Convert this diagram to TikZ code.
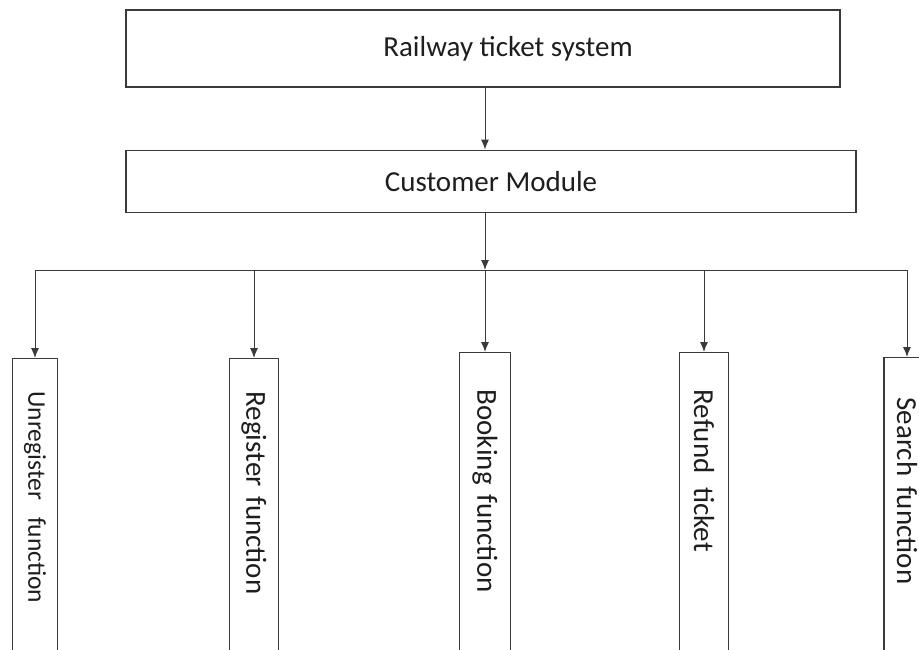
\documentclass[tikz,border=0pt]{standalone}
\usepackage{fontspec}
\setmainfont{Carlito}
\usetikzlibrary{arrows.meta, positioning}
\definecolor{mline}{HTML}{3A3A3A}
\definecolor{mtext}{HTML}{1E1E1E}
\tikzstyle{block} = [rectangle, draw = mline, line width = 1.2pt, text = mtext, text centered]
\tikzstyle{leaf} = [rectangle, draw = mline, line width = 1.2pt, text = mtext, rotate = -90, anchor = west, minimum height = 47pt, text width = 300pt, inner xsep = 33pt, align = left]
\tikzstyle{link} = [-{Latex[length = 10pt, width = 8pt]}, line width = 1pt, draw = mline]

\begin{document}
\begin{tikzpicture}[x=1pt, y=-1pt, font=\fontsize{29}{34}\selectfont]
  \path[use as bounding box, clip] (0,0) rectangle (919,650);
  \node (sys) [block, minimum width = 714pt, minimum height = 77pt] at (483,48.5) {\hspace*{50pt}Railway ticket system};
  \node (cust) [block, minimum width = 730pt, minimum height = 62pt, below = 62pt of sys, xshift = 8pt] {Customer Module};
  \coordinate (bus) at (485,270);
  \draw [link] (sys.south -| bus) -- (cust.north -| bus);
  \draw [link] (cust.south -| bus) -- (bus);
  % function boxes, cut off by the lower edge
  \node (unreg) [leaf, minimum height = 45pt, font = \fontsize{25.5}{30}\selectfont] at (35,358) {Unregister~ function};
  \node (reg) [leaf, minimum height = 49pt] at (254,358) {Register function};
  \node (book) [leaf, minimum height = 51pt, inner xsep = 37pt] at (485,352) {Booking function};
  \node (refund) [leaf, minimum height = 49pt, inner xsep = 37pt] at (704,352) {Refund\hspace{4pt} ticket};
  \node (search) [leaf, minimum height = 46pt, inner xsep = 40pt] at (907,357) {Search function};
  \draw [link] (bus) -| (unreg.west);
  \draw [link] (bus) -| (reg.west);
  \draw [link] (bus) -- (book.west);
  \draw [link] (bus) -| (refund.west);
  \draw [link] (bus) -| (search.west);
\end{tikzpicture}
\end{document}
